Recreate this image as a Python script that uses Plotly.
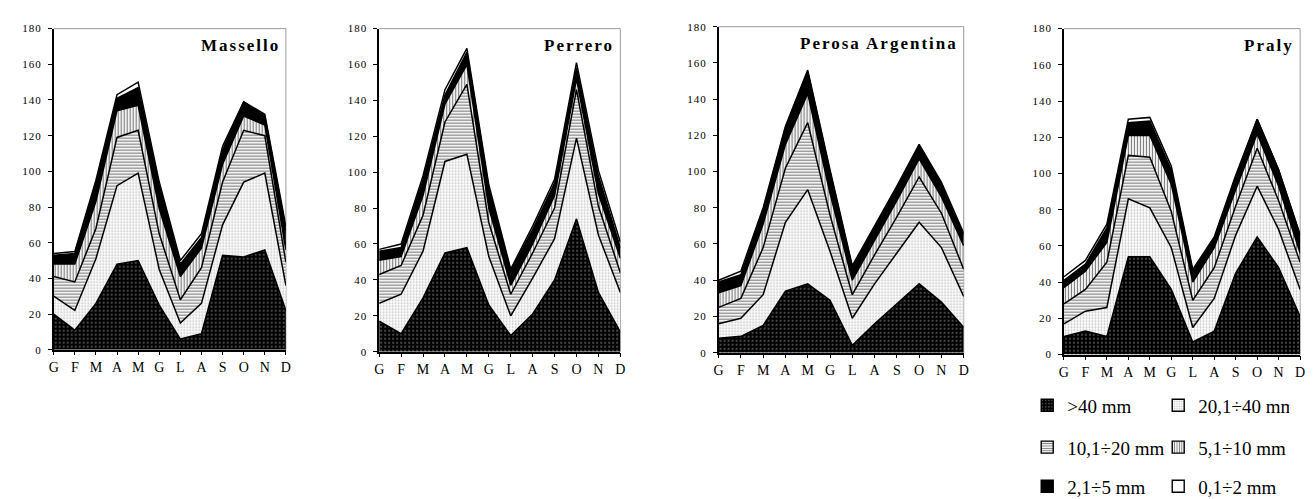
import plotly.graph_objects as go

# ---------------- data ----------------
months = ["G", "F", "M", "A", "M", "G", "L", "A", "S", "O", "N", "D"]
classes = [">40 mm", "20,1÷40 mm", "10,1÷20 mm", "5,1÷10 mm", "2,1÷5 mm", "0,1÷2 mm"]
stations = ["Massello", "Perrero", "Perosa Argentina", "Praly"]
y_ticks = [0, 20, 40, 60, 80, 100, 120, 140, 160, 180]

# Massello (mm per class, stacked bottom -> top)
massello_gt40 = [20, 11, 26, 48, 50, 25, 6, 9, 53, 52, 56, 22]
massello_20_40 = [10, 11, 25, 44, 49, 20, 9, 17, 17, 42, 43, 14]
massello_10_20 = [11, 16, 17, 27, 24, 20, 13, 20, 24, 29, 21, 13]
massello_5_10 = [7, 10, 15, 15, 14, 14, 13, 11, 10, 8, 6, 7]
massello_2_5 = [5, 6, 10, 7, 10, 13, 7, 6, 8, 8, 5, 11]
massello_0_2 = [1, 1, 2, 2, 3, 2, 2, 2, 2, 0, 1, 2]

# Perrero
perrero_gt40 = [17, 10, 30, 55, 58, 26, 9, 21, 40, 74, 33, 11]
perrero_20_40 = [10, 22, 26, 51, 52, 27, 11, 20, 23, 45, 32, 22]
perrero_10_20 = [16, 16, 20, 22, 39, 19, 12, 14, 17, 27, 16, 11]
perrero_5_10 = [8, 5, 11, 10, 11, 8, 5, 5, 7, 6, 7, 8]
perrero_2_5 = [5, 5, 9, 5, 7, 11, 8, 8, 7, 6, 10, 6]
perrero_0_2 = [1, 2, 2, 3, 2, 2, 1, 2, 2, 3, 3, 3]

# Perosa Argentina
perosa_gt40 = [8, 9, 15, 34, 38, 29, 4, 16, 27, 38, 28, 14]
perosa_20_40 = [8, 10, 17, 38, 52, 27, 15, 22, 28, 34, 30, 17]
perosa_10_20 = [9, 11, 26, 30, 37, 20, 13, 16, 20, 25, 19, 15]
perosa_5_10 = [8, 7, 13, 13, 16, 12, 8, 8, 9, 10, 9, 13]
perosa_2_5 = [6, 6, 8, 9, 12, 12, 7, 7, 7, 7, 7, 6]
perosa_0_2 = [1, 2, 1, 1, 1, 1, 1, 1, 1, 1, 1, 1]

# Praly
praly_gt40 = [10, 13, 10, 54, 54, 36, 7, 13, 45, 65, 48, 21]
praly_20_40 = [7, 11, 16, 32, 27, 23, 8, 18, 21, 28, 21, 15]
praly_10_20 = [11, 12, 25, 24, 28, 20, 15, 17, 16, 21, 16, 15]
praly_5_10 = [9, 10, 11, 11, 12, 15, 10, 11, 9, 8, 8, 5]
praly_2_5 = [4, 4, 8, 7, 8, 8, 6, 5, 7, 8, 9, 10]
praly_0_2 = [2, 2, 2, 2, 2, 2, 1, 1, 1, 0, 0, 0]

station_layers = {
    "Massello": [massello_gt40, massello_20_40, massello_10_20, massello_5_10, massello_2_5, massello_0_2],
    "Perrero": [perrero_gt40, perrero_20_40, perrero_10_20, perrero_5_10, perrero_2_5, perrero_0_2],
    "Perosa Argentina": [perosa_gt40, perosa_20_40, perosa_10_20, perosa_5_10, perosa_2_5, perosa_0_2],
    "Praly": [praly_gt40, praly_20_40, praly_10_20, praly_5_10, praly_2_5, praly_0_2],
}

# ---------------- styles ----------------
W, H = 1313, 499
FONT = "Liberation Serif"
x_idx = list(range(len(months)))

styles = [
    dict(shape=".", bg="#000000", fg="#8c8c8c", size=4, solidity=0.15),
    dict(shape=".", bg="#ffffff", fg="#c4c4c4", size=3, solidity=0.3),
    dict(shape="-", bg="#ffffff", fg="#7a7a7a", size=3, solidity=0.4),
    dict(shape="|", bg="#ffffff", fg="#7a7a7a", size=3, solidity=0.4),
    dict(shape="", bg="#000000", fg="#000000", size=3, solidity=0.3),
    dict(shape="", bg="#ffffff", fg="#ffffff", size=3, solidity=0.3),
]

# plot areas in pixels: (left, right, top, bottom)
boxes = [
    (41, 275, 15, 344),
    (369, 612, 15, 346),
    (711, 958, 13, 347),
    (1059, 1297, 15, 349),
]

fig = go.Figure()

for i, st in enumerate(stations):
    suf = "" if i == 0 else str(i + 1)
    for k, (cls, vals) in enumerate(zip(classes, station_layers[st])):
        s = styles[k]
        tr = dict(
            x=x_idx, y=vals, name=cls, stackgroup="st" + str(i), mode="lines",
            line=dict(color="black", width=1.5),
            xaxis="x" + suf, yaxis="y" + suf, showlegend=False, hoverinfo="skip",
            fillcolor=s["bg"],
        )
        if s["shape"]:
            tr["fillpattern"] = dict(shape=s["shape"], bgcolor=s["bg"], fgcolor=s["fg"],
                                     size=s["size"], solidity=s["solidity"], fillmode="replace")
        fig.add_trace(go.Scatter(**tr))

# legend entries (three rows of two)
legend_ids = ["legend", "legend", "legend2", "legend2", "legend3", "legend3"]
for k, cls in enumerate(classes):
    s = styles[k]
    marker = dict(color=s["bg"], line=dict(color="black", width=1.4))
    if s["shape"]:
        marker["pattern"] = dict(shape=s["shape"], bgcolor=s["bg"], fgcolor=s["fg"],
                                 size=s["size"], solidity=s["solidity"], fillmode="replace")
    fig.add_trace(go.Bar(x=[None], y=[None], name=cls, marker=marker, legend=legend_ids[k],
                         showlegend=True, xaxis="x", yaxis="y", hoverinfo="skip"))

layout = dict(
    width=W, height=H, margin=dict(l=0, r=0, t=0, b=0),
    paper_bgcolor="white", plot_bgcolor="white",
    font=dict(family=FONT, color="black", size=12),
    shapes=[], annotations=[],
)

for i, st in enumerate(stations):
    suf = "" if i == 0 else str(i + 1)
    l, r, t, b = boxes[i]
    layout["xaxis" + suf] = dict(
        domain=[l / W, r / W], anchor="y" + suf, range=[0, 11],
        tickmode="array", tickvals=x_idx, ticktext=months,
        ticks="outside", ticklen=4, tickcolor="black", tickwidth=1,
        showline=True, linecolor="black", linewidth=1.5, showgrid=False, zeroline=False,
        tickfont=dict(family=FONT, size=14), fixedrange=True,
    )
    layout["yaxis" + suf] = dict(
        domain=[1 - b / H, 1 - t / H], anchor="x" + suf, range=[0, 180],
        tickmode="array", tickvals=y_ticks,
        ticktext=['<span style="letter-spacing:1px">' + str(v) + '</span>' for v in y_ticks],
        ticks="outside", ticklen=4, tickcolor="black", tickwidth=1,
        showline=True, linecolor="black", linewidth=1.5, showgrid=False, zeroline=False,
        tickfont=dict(family=FONT, size=11), ticklabelstandoff=4, fixedrange=True,
    )
    xd, yd = "x" + suf + " domain", "y" + suf + " domain"
    layout["shapes"].append(dict(type="line", xref=xd, yref=yd, x0=0, x1=1, y0=1, y1=1,
                                 line=dict(color="#9a9a9a", width=1), layer="below"))
    layout["shapes"].append(dict(type="line", xref=xd, yref=yd, x0=1, x1=1, y0=0, y1=1,
                                 line=dict(color="#9a9a9a", width=1), layer="below"))
    layout["annotations"].append(dict(
        text='<b><span style="letter-spacing:2px">' + st + '</span></b>',
        xref=xd, yref=yd, x=1, y=1, xanchor="right", yanchor="middle",
        xshift=-4, yshift=-17, showarrow=False, font=dict(family=FONT, size=17, color="black"),
    ))

legend_rows_y = [401, 444, 484]
for name, ypx in zip(["legend", "legend2", "legend3"], legend_rows_y):
    layout[name] = dict(
        orientation="h", x=1022 / W, xanchor="left", y=1 - ypx / H, yanchor="middle",
        entrywidth=86, entrywidthmode="pixels", bgcolor="rgba(0,0,0,0)",
        font=dict(family=FONT, size=19, color="black"), traceorder="normal",
        itemclick=False, itemdoubleclick=False,
    )

fig.update_layout(**layout)
fig.write_html("out.html")
